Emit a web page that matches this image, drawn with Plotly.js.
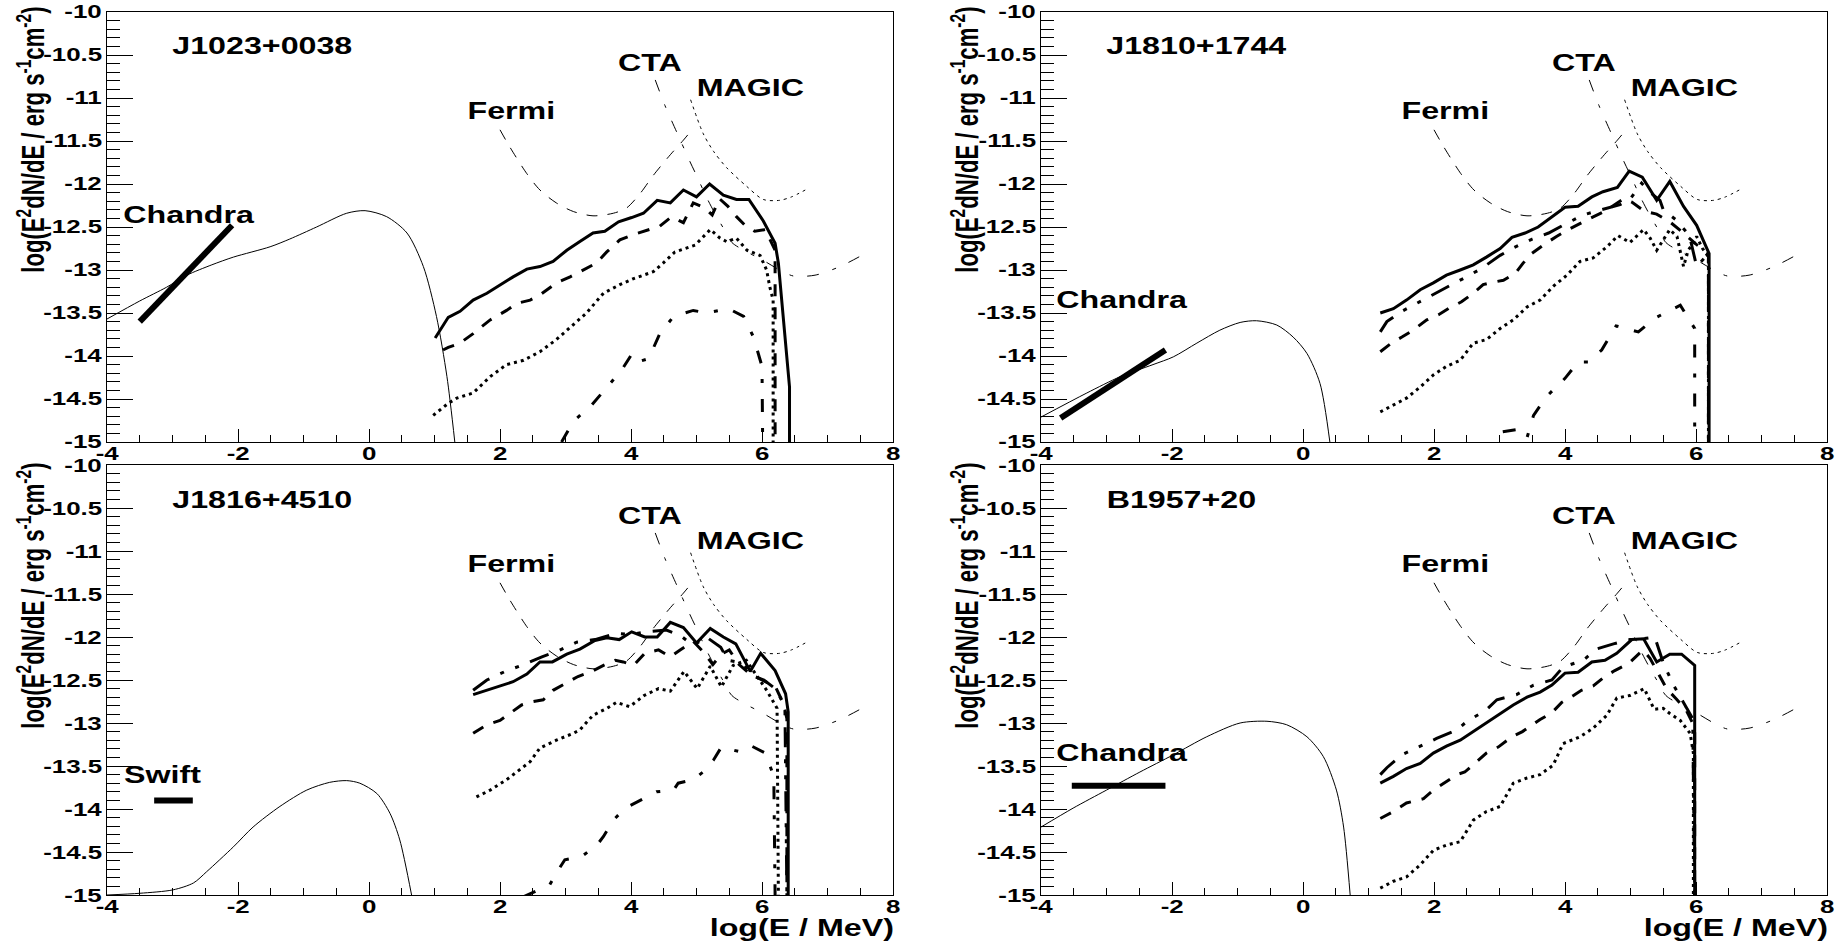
<!DOCTYPE html>
<html>
<head>
<meta charset="utf-8">
<script src="https://cdn.plot.ly/plotly-3.0.1.min.js"></script>
<style>
  html, body { margin: 0; padding: 0; background: #ffffff; }
  #chart { width: 1843px; height: 945px; }
</style>
</head>
<body>
<div id="chart"></div>
<script>
// ---------------- tick labels ----------------
const xTickVals = [-4, -2, 0, 2, 4, 6, 8];
const xTickText = ['-4', '-2', '0', '2', '4', '6', '8'];
const yTickVals = [-15, -14.5, -14, -13.5, -13, -12.5, -12, -11.5, -11, -10.5, -10];
const yTickText = ['-15', '-14.5', '-14', '-13.5', '-13', '-12.5', '-12', '-11.5', '-11', '-10.5', '-10'];

const panelNames = ['J1023+0038', 'J1810+1744', 'J1816+4510', 'B1957+20'];
const obsNames = ['Chandra', 'Chandra', 'Swift', 'Chandra'];
const instrNames = ['Fermi', 'CTA', 'MAGIC'];

// ---------------- instrument sensitivities (same in every panel) ----------------
const fermiX = [2.0, 2.15, 2.41, 2.61, 2.86, 3.12, 3.42, 3.73, 3.93, 4.14, 4.34, 4.60, 4.80, 4.93];
const fermiY = [-11.37, -11.57, -11.88, -12.07, -12.22, -12.32, -12.37, -12.34, -12.28, -12.11, -11.90, -11.66, -11.49, -11.37];
const ctaX = [4.37, 4.52, 4.70, 4.90, 5.00, 5.15, 5.28, 5.40, 5.54, 5.77, 6.00, 6.27, 6.48, 6.81, 7.19, 7.62];
const ctaY = [-10.79, -11.09, -11.40, -11.74, -11.90, -12.15, -12.34, -12.50, -12.68, -12.79, -12.88, -13.00, -13.07, -13.06, -12.96, -12.79];
const magicX = [4.91, 5.10, 5.26, 5.46, 5.77, 6.02, 6.27, 6.45, 6.66];
const magicY = [-11.02, -11.41, -11.62, -11.81, -12.03, -12.18, -12.19, -12.15, -12.07];

// ---------------- panel 1 : J1023+0038 ----------------
const p1ThinX = [-4, -3.5, -3.09, -2.78, -2.4, -2.07, -1.51, -1.21, -0.8, -0.34, -0.06, 0.27, 0.58, 0.83, 1.03, 1.19, 1.31];
const p1ThinY = [-13.57, -13.36, -13.20, -13.06, -12.94, -12.85, -12.73, -12.64, -12.50, -12.34, -12.31, -12.38, -12.57, -12.96, -13.54, -14.24, -15.0];
const p1ObsX = [-3.5, -2.09];
const p1ObsY = [-13.60, -12.48];
const p1SolidX = [1.01, 1.21, 1.39, 1.59, 1.80, 2.0, 2.20, 2.41, 2.61, 2.81, 3.02, 3.22, 3.42, 3.60, 3.81, 4.01, 4.19, 4.40, 4.60, 4.80, 5.00, 5.20, 5.41, 5.61, 5.80, 6.02, 6.20, 6.25, 6.42, 6.42];
const p1SolidY = [-13.79, -13.55, -13.48, -13.35, -13.27, -13.17, -13.08, -12.99, -12.96, -12.90, -12.77, -12.67, -12.57, -12.55, -12.44, -12.39, -12.34, -12.19, -12.22, -12.07, -12.15, -12.00, -12.13, -12.18, -12.18, -12.43, -12.69, -12.92, -14.36, -15.0];
const p1DashX = [1.13, 1.21, 1.39, 1.59, 1.85, 2.10, 2.25, 2.46, 2.61, 2.86, 3.07, 3.27, 3.47, 3.63, 3.83, 4.03, 4.29, 4.44, 4.62, 4.80, 4.95, 5.13, 5.24, 5.35, 5.48, 5.61, 5.74, 5.89, 6.05, 6.15, 6.20, 6.20];
const p1DashY = [-13.93, -13.90, -13.85, -13.74, -13.58, -13.47, -13.39, -13.35, -13.29, -13.15, -13.08, -13.00, -12.92, -12.79, -12.65, -12.59, -12.53, -12.49, -12.38, -12.45, -12.22, -12.28, -12.36, -12.17, -12.26, -12.38, -12.48, -12.55, -12.53, -12.69, -12.77, -15.0];
const p1DotX = [0.98, 1.08, 1.21, 1.34, 1.59, 1.85, 2.10, 2.36, 2.61, 2.86, 3.12, 3.32, 3.58, 3.83, 4.04, 4.34, 4.49, 4.67, 4.98, 5.21, 5.36, 5.46, 5.61, 5.77, 5.97, 6.07, 6.12, 6.17, 6.17];
const p1DotY = [-14.69, -14.63, -14.55, -14.49, -14.43, -14.24, -14.10, -14.05, -13.95, -13.81, -13.64, -13.50, -13.27, -13.17, -13.10, -13.02, -12.92, -12.79, -12.71, -12.53, -12.63, -12.67, -12.63, -12.77, -12.83, -13.00, -13.20, -13.35, -15.0];
const p1DDBX = [2.94, 3.12, 3.40, 3.68, 3.86, 4.02, 4.14, 4.27, 4.44, 4.65, 4.95, 5.15, 5.49, 5.72, 5.87, 6.00, 6.01];
const p1DDBY = [-15.0, -14.76, -14.57, -14.32, -14.16, -13.97, -14.06, -14.03, -13.74, -13.54, -13.47, -13.50, -13.45, -13.54, -13.78, -14.12, -15.0];

// ---------------- panel 2 : J1810+1744 ----------------
const p2ThinX = [-4, -3.30, -2.79, -2.29, -1.98, -1.62, -1.27, -0.96, -0.71, -0.40, -0.15, 0.06, 0.26, 0.41];
const p2ThinY = [-14.71, -14.43, -14.24, -14.10, -14.01, -13.85, -13.70, -13.61, -13.59, -13.64, -13.78, -13.97, -14.32, -15.0];
const p2ObsX = [-3.70, -2.10];
const p2ObsY = [-14.72, -13.93];
const p2SolidX = [1.18, 1.38, 1.58, 1.79, 1.99, 2.19, 2.40, 2.60, 2.80, 3.01, 3.19, 3.39, 3.59, 3.80, 4.00, 4.20, 4.41, 4.58, 4.80, 4.98, 5.18, 5.40, 5.60, 5.81, 6.01, 6.20, 6.20];
const p2SolidY = [-13.50, -13.45, -13.35, -13.23, -13.15, -13.06, -13.00, -12.94, -12.85, -12.75, -12.62, -12.57, -12.50, -12.38, -12.27, -12.26, -12.15, -12.09, -12.04, -11.85, -11.92, -12.19, -11.97, -12.26, -12.48, -12.81, -15.0];
const p2DDAX = [1.18, 1.28, 1.51, 1.75, 2.02, 2.27, 2.52, 2.73, 3.01, 3.22, 3.50, 3.75, 3.97, 4.28, 4.55, 4.84, 5.00, 5.17, 5.32, 5.45, 5.50, 5.70, 5.90, 6.01, 6.19, 6.19];
const p2DDAY = [-13.72, -13.60, -13.48, -13.38, -13.27, -13.17, -13.07, -12.98, -12.83, -12.74, -12.64, -12.57, -12.48, -12.36, -12.30, -12.24, -12.17, -11.99, -12.11, -12.19, -12.30, -12.42, -12.60, -12.96, -12.81, -15.0];
const p2DashX = [1.18, 1.35, 1.51, 1.68, 1.89, 2.07, 2.24, 2.42, 2.60, 2.75, 2.91, 3.06, 3.24, 3.36, 3.49, 3.67, 3.87, 4.05, 4.33, 4.60, 4.90, 5.02, 5.22, 5.40, 5.60, 5.81, 6.00, 6.19, 6.19];
const p2DashY = [-13.95, -13.85, -13.78, -13.70, -13.58, -13.52, -13.44, -13.37, -13.27, -13.17, -13.14, -13.12, -13.04, -12.92, -12.81, -12.71, -12.61, -12.53, -12.42, -12.32, -12.17, -12.21, -12.32, -12.35, -12.44, -12.57, -12.70, -12.81, -15.0];
const p2DotX = [1.18, 1.38, 1.58, 1.79, 1.99, 2.19, 2.40, 2.60, 2.80, 3.01, 3.21, 3.42, 3.62, 3.82, 4.03, 4.23, 4.43, 4.64, 4.81, 4.99, 5.20, 5.30, 5.40, 5.50, 5.60, 5.71, 5.78, 5.81, 5.88, 5.96, 6.01, 6.10, 6.19, 6.19];
const p2DotY = [-14.65, -14.57, -14.49, -14.36, -14.22, -14.12, -14.05, -13.85, -13.81, -13.68, -13.58, -13.43, -13.35, -13.19, -13.06, -12.90, -12.86, -12.73, -12.60, -12.68, -12.53, -12.63, -12.77, -12.65, -12.53, -12.61, -12.85, -12.96, -12.77, -12.69, -12.61, -12.75, -12.85, -15.0];
const p2DDBX = [3.05, 3.30, 3.42, 3.52, 3.72, 4.00, 4.20, 4.36, 4.56, 4.78, 5.12, 5.37, 5.76, 5.88, 5.98, 5.98];
const p2DDBY = [-14.88, -14.85, -14.95, -14.69, -14.47, -14.26, -14.07, -14.07, -13.93, -13.65, -13.72, -13.56, -13.41, -13.56, -13.68, -15.0];

// ---------------- panel 3 : J1816+4510 ----------------
const p3ThinX = [-4, -3.5, -2.99, -2.68, -2.48, -2.07, -1.77, -1.36, -0.95, -0.60, -0.34, -0.14, 0.12, 0.32, 0.47, 0.65];
const p3ThinY = [-15.0, -14.98, -14.94, -14.86, -14.73, -14.44, -14.21, -13.97, -13.78, -13.69, -13.67, -13.70, -13.82, -14.05, -14.36, -15.0];
const p3ObsX = [-3.28, -2.69];
const p3ObsY = [-13.90, -13.90];
const p3SolidX = [1.59, 1.80, 2.00, 2.20, 2.41, 2.61, 2.80, 3.02, 3.22, 3.45, 3.63, 3.82, 4.01, 4.21, 4.40, 4.60, 4.80, 5.00, 5.21, 5.41, 5.60, 5.82, 5.98, 6.20, 6.36, 6.40, 6.40];
const p3SolidY = [-12.67, -12.62, -12.57, -12.52, -12.43, -12.29, -12.29, -12.20, -12.14, -12.04, -12.01, -12.03, -11.94, -12.00, -12.00, -11.83, -11.89, -12.07, -11.90, -12.00, -12.08, -12.40, -12.19, -12.39, -12.66, -12.87, -15.0];
const p3DDAX = [1.59, 1.80, 2.08, 2.33, 2.64, 2.89, 3.17, 3.45, 3.76, 4.00, 4.24, 4.54, 4.75, 4.95, 5.15, 5.37, 5.48, 5.70, 5.85, 6.03, 6.20, 6.35, 6.38];
const p3DDAY = [-12.62, -12.50, -12.40, -12.33, -12.23, -12.16, -12.06, -12.03, -11.96, -11.97, -11.94, -11.92, -11.98, -12.10, -12.00, -12.12, -12.27, -12.30, -12.45, -12.50, -12.60, -12.80, -15.0];
const p3DashX = [1.59, 1.80, 2.00, 2.18, 2.33, 2.51, 2.66, 2.81, 2.99, 3.19, 3.40, 3.58, 3.76, 3.88, 4.04, 4.21, 4.42, 4.60, 4.75, 4.95, 5.10, 5.25, 5.38, 5.50, 5.65, 5.80, 6.00, 6.20, 6.33, 6.38, 6.38];
const p3DashY = [-13.12, -13.02, -12.97, -12.87, -12.79, -12.75, -12.73, -12.62, -12.54, -12.46, -12.40, -12.33, -12.27, -12.29, -12.33, -12.19, -12.15, -12.23, -12.15, -12.05, -12.17, -12.32, -12.20, -12.15, -12.32, -12.42, -12.50, -12.57, -12.78, -12.95, -15.0];
const p3DotX = [1.64, 1.85, 2.10, 2.36, 2.46, 2.61, 2.86, 3.12, 3.22, 3.42, 3.63, 3.78, 3.98, 4.20, 4.42, 4.60, 4.81, 5.01, 5.21, 5.38, 5.56, 5.76, 5.95, 6.08, 6.23, 6.25];
const p3DotY = [-13.86, -13.78, -13.66, -13.51, -13.45, -13.29, -13.20, -13.12, -13.08, -12.91, -12.83, -12.76, -12.81, -12.68, -12.60, -12.63, -12.40, -12.60, -12.34, -12.58, -12.33, -12.27, -12.49, -12.63, -12.83, -15.0];
const p3DDBX = [2.36, 2.76, 2.89, 2.99, 3.25, 3.48, 3.58, 3.73, 3.91, 4.09, 4.39, 4.65, 4.72, 4.95, 5.10, 5.26, 5.38, 5.64, 5.82, 6.05, 6.18, 6.20];
const p3DDBY = [-15.02, -14.88, -14.71, -14.59, -14.55, -14.42, -14.32, -14.13, -13.99, -13.92, -13.80, -13.78, -13.70, -13.66, -13.57, -13.43, -13.28, -13.33, -13.26, -13.35, -13.62, -15.0];

// ---------------- panel 4 : B1957+20 ----------------
const p4ThinX = [-4, -3.51, -3.0, -2.49, -1.98, -1.47, -0.96, -0.55, -0.25, 0.06, 0.31, 0.51, 0.62, 0.72];
const p4ThinY = [-14.21, -13.99, -13.78, -13.57, -13.37, -13.16, -13.00, -12.98, -13.02, -13.16, -13.39, -13.78, -14.21, -15.0];
const p4ObsX = [-3.53, -2.10];
const p4ObsY = [-13.73, -13.73];
const p4SolidX = [1.18, 1.38, 1.58, 1.79, 1.99, 2.19, 2.40, 2.60, 2.80, 3.01, 3.21, 3.42, 3.62, 3.80, 4.00, 4.20, 4.41, 4.61, 4.79, 5.02, 5.20, 5.40, 5.60, 5.78, 5.98, 5.98];
const p4SolidY = [-13.70, -13.62, -13.53, -13.47, -13.35, -13.27, -13.20, -13.10, -13.00, -12.89, -12.79, -12.70, -12.64, -12.56, -12.42, -12.41, -12.29, -12.27, -12.19, -12.03, -12.02, -12.29, -12.20, -12.20, -12.33, -15.0];
const p4DDAX = [1.18, 1.28, 1.51, 1.75, 2.04, 2.35, 2.52, 2.78, 2.96, 3.26, 3.52, 3.80, 3.97, 4.28, 4.48, 4.74, 4.99, 5.20, 5.37, 5.50, 5.65, 5.80, 5.95, 5.98];
const p4DDAY = [-13.60, -13.52, -13.37, -13.28, -13.18, -13.08, -12.97, -12.86, -12.73, -12.67, -12.56, -12.50, -12.35, -12.27, -12.14, -12.08, -12.03, -12.02, -12.00, -12.30, -12.55, -12.75, -12.95, -15.0];
const p4DashX = [1.18, 1.38, 1.58, 1.84, 1.99, 2.19, 2.35, 2.47, 2.62, 2.80, 2.98, 3.19, 3.35, 3.62, 3.80, 3.95, 4.13, 4.25, 4.43, 4.61, 4.76, 4.97, 5.19, 5.30, 5.45, 5.55, 5.70, 5.85, 5.98, 5.98];
const p4DashY = [-14.11, -14.03, -13.93, -13.88, -13.78, -13.68, -13.60, -13.57, -13.47, -13.35, -13.28, -13.16, -13.10, -12.96, -12.88, -12.76, -12.68, -12.62, -12.57, -12.46, -12.39, -12.31, -12.15, -12.25, -12.46, -12.60, -12.72, -12.85, -13.05, -15.0];
const p4DotX = [1.18, 1.38, 1.58, 1.79, 1.99, 2.19, 2.40, 2.60, 2.80, 3.01, 3.21, 3.42, 3.62, 3.82, 3.97, 4.23, 4.43, 4.64, 4.79, 4.99, 5.21, 5.36, 5.50, 5.60, 5.76, 5.91, 5.96, 5.96];
const p4DotY = [-14.92, -14.84, -14.79, -14.65, -14.48, -14.42, -14.38, -14.13, -14.03, -13.97, -13.70, -13.64, -13.60, -13.49, -13.24, -13.16, -13.06, -12.91, -12.71, -12.68, -12.60, -12.84, -12.83, -12.89, -12.97, -13.12, -13.35, -15.0];

// ---------------- styles ----------------
const FONT = 'Liberation Sans, Arial, Helvetica, sans-serif';
const STRETCH = 1.4; // horizontal stretch of the reference's glyphs
const S = {
  thin:   {width: 1, dash: 'solid', shape: 'spline'},
  obs:    {width: 6, dash: 'solid', shape: 'linear'},
  solid:  {width: 3, dash: 'solid', shape: 'linear'},
  dashed: {width: 3, dash: '12px,11px', shape: 'linear'},
  dotted: {width: 3, dash: '3px,4px', shape: 'linear'},
  ddA:    {width: 3, dash: '20px,12px,4px,12px,4px,12px', shape: 'linear'},
  ddB:    {width: 3, dash: '13px,16px,4px,16px', shape: 'linear'},
  fermi:  {width: 1, dash: '11px,10px', shape: 'spline'},
  cta:    {width: 1, dash: '12px,14px,4px,14px', shape: 'spline'},
  magic:  {width: 1, dash: '3px,4px', shape: 'spline'}
};

function line(x, y, n, st) {
  const sfx = n === 1 ? '' : String(n);
  return {
    type: 'scatter', mode: 'lines', x: x, y: y,
    xaxis: 'x' + sfx, yaxis: 'y' + sfx,
    line: {color: '#000000', width: st.width, dash: st.dash, shape: st.shape, smoothing: 0.8},
    hoverinfo: 'skip', showlegend: false
  };
}

const panels = [
  {thin: [p1ThinX, p1ThinY], obs: [p1ObsX, p1ObsY], solid: [p1SolidX, p1SolidY], ddA: null, dashed: [p1DashX, p1DashY], dotted: [p1DotX, p1DotY], ddB: [p1DDBX, p1DDBY]},
  {thin: [p2ThinX, p2ThinY], obs: [p2ObsX, p2ObsY], solid: [p2SolidX, p2SolidY], ddA: [p2DDAX, p2DDAY], dashed: [p2DashX, p2DashY], dotted: [p2DotX, p2DotY], ddB: [p2DDBX, p2DDBY]},
  {thin: [p3ThinX, p3ThinY], obs: [p3ObsX, p3ObsY], solid: [p3SolidX, p3SolidY], ddA: [p3DDAX, p3DDAY], dashed: [p3DashX, p3DashY], dotted: [p3DotX, p3DotY], ddB: [p3DDBX, p3DDBY]},
  {thin: [p4ThinX, p4ThinY], obs: [p4ObsX, p4ObsY], solid: [p4SolidX, p4SolidY], ddA: [p4DDAX, p4DDAY], dashed: [p4DashX, p4DashY], dotted: [p4DotX, p4DotY], ddB: null}
];

const traces = [];
panels.forEach((p, i) => {
  const n = i + 1;
  traces.push(line(fermiX, fermiY, n, S.fermi));
  traces.push(line(ctaX, ctaY, n, S.cta));
  traces.push(line(magicX, magicY, n, S.magic));
  traces.push(line(p.thin[0], p.thin[1], n, S.thin));
  traces.push(line(p.obs[0], p.obs[1], n, S.obs));
  if (p.ddB) traces.push(line(p.ddB[0], p.ddB[1], n, S.ddB));
  traces.push(line(p.dotted[0], p.dotted[1], n, S.dotted));
  traces.push(line(p.dashed[0], p.dashed[1], n, S.dashed));
  if (p.ddA) traces.push(line(p.ddA[0], p.ddA[1], n, S.ddA));
  traces.push(line(p.solid[0], p.solid[1], n, S.solid));
});

// ---------------- layout ----------------
const W = 1843, H = 945;
const xDom = [[107 / W, 893 / W], [1041 / W, 1827 / W], [107 / W, 893 / W], [1041 / W, 1827 / W]];
const yDom = [[1 - 442 / H, 1 - 12 / H], [1 - 442 / H, 1 - 12 / H], [1 - 895 / H, 1 - 465 / H], [1 - 895 / H, 1 - 465 / H]];
const tickFont = {family: FONT, size: 18.5, color: '#000000', weight: 700};

function xAxis(i) {
  return {
    domain: xDom[i], anchor: 'y' + (i === 0 ? '' : i + 1), range: [-4, 8],
    showgrid: false, zeroline: false, showline: true, linecolor: '#000000', linewidth: 1, mirror: true,
    ticks: 'inside', ticklen: 13, tickwidth: 1, tickcolor: '#000000',
    tickmode: 'array', tickvals: xTickVals, ticktext: xTickText, showticklabels: false,
    minor: {tickmode: 'linear', tick0: -4, dtick: 0.5, ticks: 'inside', ticklen: 7, tickwidth: 1, tickcolor: '#000000', showgrid: false},
    fixedrange: true
  };
}
function yAxis(i) {
  return {
    domain: yDom[i], anchor: 'x' + (i === 0 ? '' : i + 1), range: [-15, -10],
    showgrid: false, zeroline: false, showline: true, linecolor: '#000000', linewidth: 1, mirror: true,
    ticks: 'inside', ticklen: 26, tickwidth: 1, tickcolor: '#000000',
    tickmode: 'array', tickvals: yTickVals, ticktext: yTickText, showticklabels: false,
    minor: {tickmode: 'linear', tick0: -15, dtick: 0.1, ticks: 'inside', ticklen: 13, tickwidth: 1, tickcolor: '#000000', showgrid: false},
    fixedrange: true
  };
}

const labelFont = {family: FONT, size: 23, color: '#000000', weight: 700};
const annotations = [];
const panelLabelPos = [[-1.62, -10.40], [-1.63, -10.40], [-1.62, -10.41], [-1.86, -10.41]];
const obsLabelPos = [[-2.75, -12.36], [-2.76, -13.35], [-3.15, -13.60], [-2.76, -13.35]];
const instrLabelPos = [[2.17, -11.15], [4.29, -10.59], [5.83, -10.88]];
for (let i = 0; i < 4; i++) {
  const sfx = i === 0 ? '' : String(i + 1);
  const base = {xref: 'x' + sfx, yref: 'y' + sfx, showarrow: false, font: labelFont, xanchor: 'center', yanchor: 'middle'};
  annotations.push(Object.assign({}, base, {text: panelNames[i], x: panelLabelPos[i][0], y: panelLabelPos[i][1]}));
  annotations.push(Object.assign({}, base, {text: obsNames[i], x: obsLabelPos[i][0], y: obsLabelPos[i][1]}));
  instrNames.forEach((nm, k) => {
    annotations.push(Object.assign({}, base, {text: nm, x: instrLabelPos[k][0], y: instrLabelPos[k][1]}));
  });
  // axis tick labels, placed on the axes' own scales
  xTickVals.forEach((v, k) => {
    annotations.push({xref: 'x' + sfx, yref: 'y' + sfx + ' domain', x: v, y: 0, yshift: -11.5,
      xanchor: 'center', yanchor: 'middle', align: 'center', showarrow: false,
      text: xTickText[k], font: tickFont});
  });
  yTickVals.forEach((v, k) => {
    annotations.push({xref: 'x' + sfx + ' domain', yref: 'y' + sfx, x: 0, y: v, xshift: -3,
      xanchor: 'right', yanchor: 'middle', align: 'right', showarrow: false,
      text: yTickText[k], font: tickFont});
  });
}
// y-axis titles (rotated)
const yTitle = 'log(E<sup>2</sup>dN/dE / erg s<sup>-1</sup>cm<sup>-2</sup>)';
const yTitlePos = [[31, 140], [965, 140], [31, 596], [965, 596]];
yTitlePos.forEach(p => {
  annotations.push({xref: 'paper', yref: 'paper', x: p[0] / W, y: 1 - p[1] / H, text: yTitle, textangle: -90,
    showarrow: false, xanchor: 'center', yanchor: 'middle',
    font: {family: FONT, size: 31, color: '#000000', weight: 700}});
});
// x-axis titles (bottom row only)
[[801.5, 928], [1735.5, 928]].forEach(p => {
  annotations.push({xref: 'paper', yref: 'paper', x: p[0] / W, y: 1 - p[1] / H, text: 'log(E / MeV)',
    showarrow: false, xanchor: 'center', yanchor: 'middle', font: labelFont});
});

const layout = {
  width: W, height: H,
  margin: {l: 0, r: 0, t: 0, b: 0, pad: 0},
  paper_bgcolor: '#ffffff', plot_bgcolor: '#ffffff',
  showlegend: false,
  annotations: annotations,
  xaxis: xAxis(0), yaxis: yAxis(0),
  xaxis2: xAxis(1), yaxis2: yAxis(1),
  xaxis3: xAxis(2), yaxis3: yAxis(2),
  xaxis4: xAxis(3), yaxis4: yAxis(3)
};

// Stretch lettering horizontally (reference glyphs are wide): anchor at start, explicit textLength.
function stretchTexts(gd) {
  gd.querySelectorAll('g.annotation').forEach(g => {
    const idx = +g.getAttribute('data-index');
    const ann = layout.annotations[idx];
    const t = g.querySelector('text.annotation-text');
    if (!t || !ann) return;
    if (t.getAttribute('data-stretched') === t.textContent) return;
    t.removeAttribute('textLength');
    t.style.fontWeight = '700';
    if (!t.getNumberOfChars()) return;
    const L = t.getComputedTextLength();
    const x0 = t.getStartPositionOfChar(0).x;
    if (!(L > 0)) return;
    const f = ann.textangle === -90 ? 1 / STRETCH : STRETCH;
    const start = ann.align === 'right' ? x0 + L - L * f : x0 + L / 2 - L * f / 2;
    t.setAttribute('text-anchor', 'start');
    t.style.textAnchor = 'start';
    t.setAttribute('x', start.toFixed(2));
    t.setAttribute('textLength', (L * f).toFixed(2));
    t.setAttribute('lengthAdjust', 'spacingAndGlyphs');
    t.setAttribute('data-stretched', t.textContent);
  });
}

Plotly.newPlot('chart', traces, layout, {staticPlot: true, displayModeBar: false}).then(gd => {
  stretchTexts(gd);
  gd.on('plotly_afterplot', () => stretchTexts(gd));
});
</script>
</body>
</html>
